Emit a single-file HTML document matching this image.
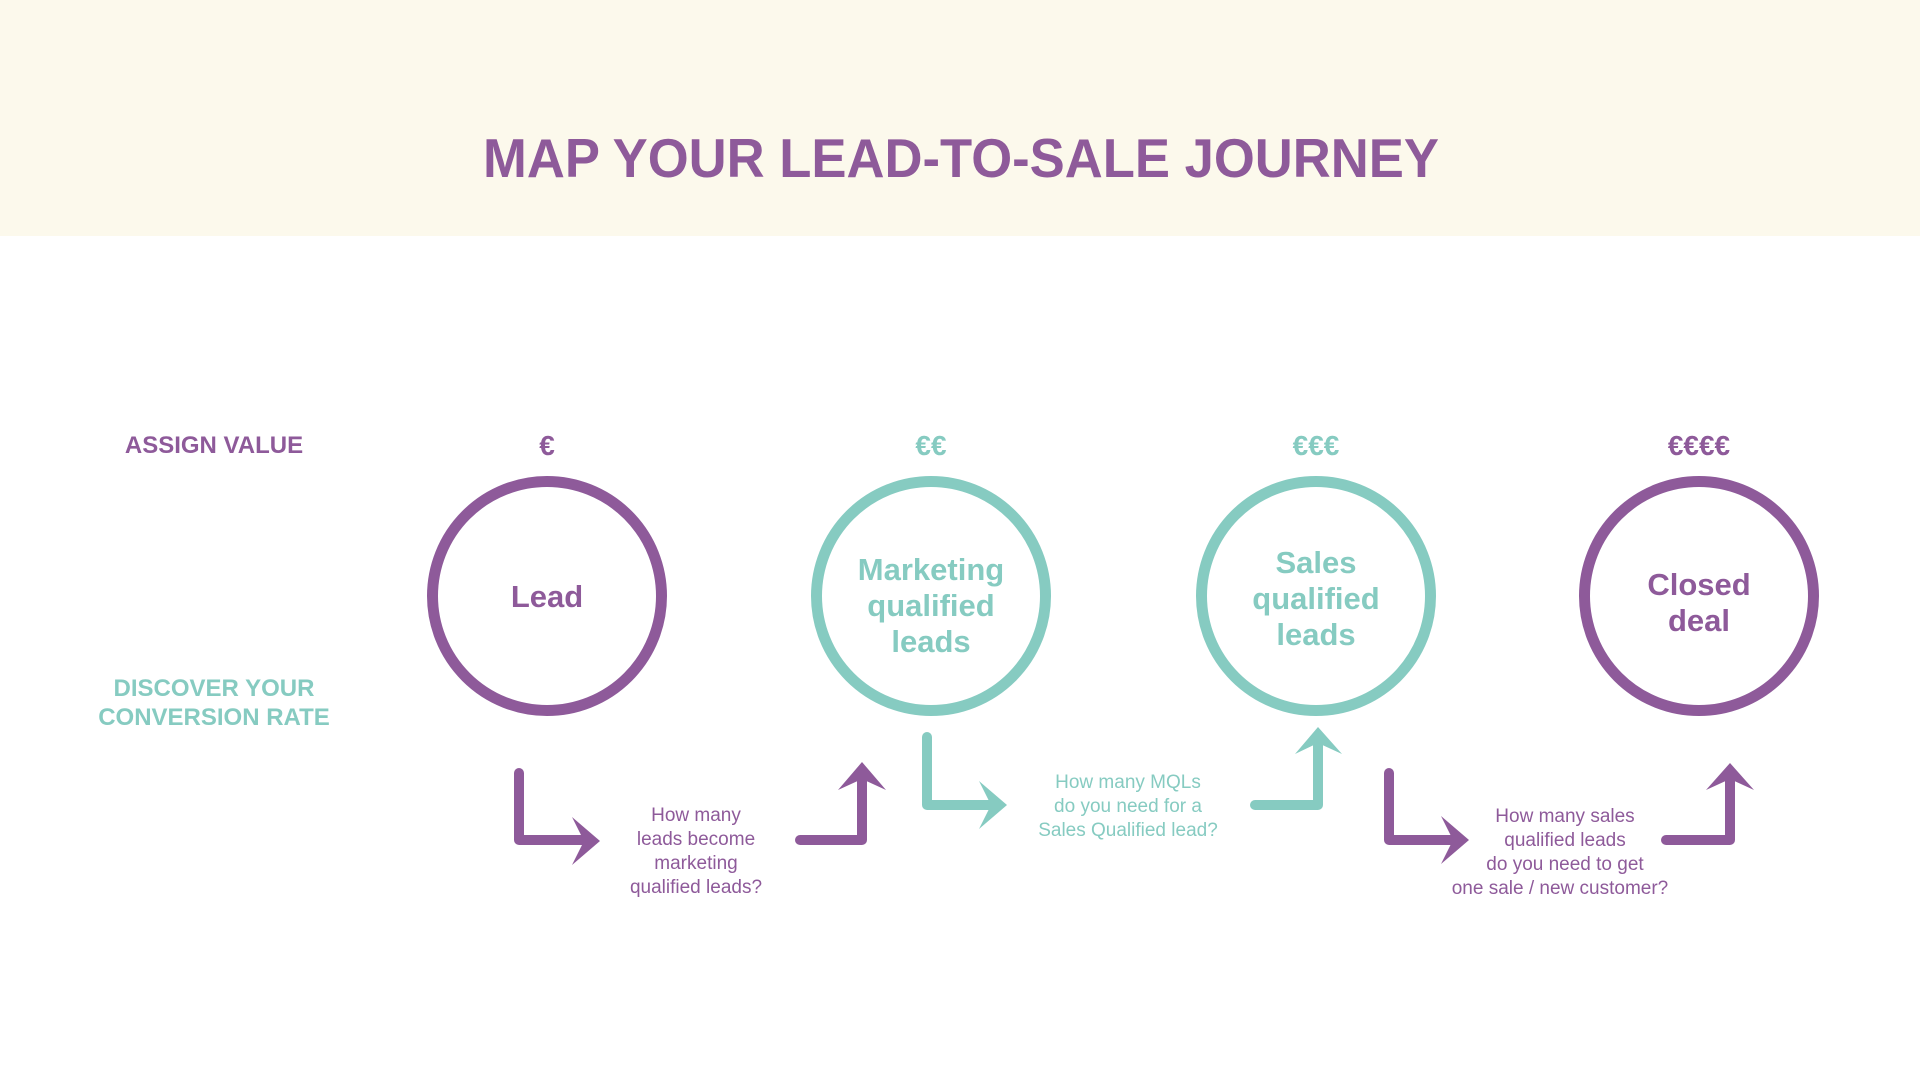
<!DOCTYPE html>
<html><head><meta charset="utf-8"><style>
html,body{margin:0;padding:0;width:1920px;height:1080px;overflow:hidden;background:#fff;font-family:"Liberation Sans",sans-serif}
</style></head><body>
<svg width="1920" height="1080" viewBox="0 0 1920 1080" xmlns="http://www.w3.org/2000/svg" style="position:absolute;left:0;top:0">
<rect x="0" y="0" width="1920" height="236" fill="#fcf9ec"/>
<text x="961" y="177" text-anchor="middle" font-family="Liberation Sans, sans-serif" font-weight="bold" font-size="55" textLength="956" lengthAdjust="spacingAndGlyphs" fill="#8e5a9a">MAP YOUR LEAD-TO-SALE JOURNEY</text>
<g font-family="Liberation Sans, sans-serif" font-weight="bold" text-anchor="middle">
<text x="214" y="453" font-size="24" fill="#8e5a9a">ASSIGN VALUE</text>
<text x="214" y="696" font-size="24" fill="#86cbc1">DISCOVER YOUR</text>
<text x="214" y="725" font-size="24" fill="#86cbc1">CONVERSION RATE</text>
<text x="547" y="455" font-size="28" fill="#8e5a9a">€</text>
<text x="931" y="455" font-size="28" fill="#86cbc1">€€</text>
<text x="1316" y="455" font-size="28" fill="#86cbc1">€€€</text>
<text x="1699" y="455" font-size="28" fill="#8e5a9a">€€€€</text>
</g>
<g fill="none" stroke-width="11">
<circle cx="547" cy="596" r="114.5" stroke="#8e5a9a"/>
<circle cx="931" cy="596" r="114.5" stroke="#86cbc1"/>
<circle cx="1316" cy="596" r="114.5" stroke="#86cbc1"/>
<circle cx="1699" cy="596" r="114.5" stroke="#8e5a9a"/>
</g>
<g font-family="Liberation Sans, sans-serif" font-weight="bold" text-anchor="middle" font-size="31">
<text x="547" y="607" fill="#8e5a9a">Lead</text>
<text x="931" y="580" fill="#86cbc1">Marketing</text>
<text x="931" y="616" fill="#86cbc1">qualified</text>
<text x="931" y="652" fill="#86cbc1">leads</text>
<text x="1316" y="573" fill="#86cbc1">Sales</text>
<text x="1316" y="609" fill="#86cbc1">qualified</text>
<text x="1316" y="645" fill="#86cbc1">leads</text>
<text x="1699" y="595" fill="#8e5a9a">Closed</text>
<text x="1699" y="631" fill="#8e5a9a">deal</text>
</g>
<g fill="none" stroke-width="10" stroke-linecap="round" stroke-linejoin="round">
<path d="M519 773 V840 H585" stroke="#8e5a9a"/>
<path d="M800 840 H862 V780" stroke="#8e5a9a"/>
<path d="M927 737 V805 H990" stroke="#86cbc1"/>
<path d="M1255 805 H1318 V745" stroke="#86cbc1"/>
<path d="M1389 773 V840 H1452" stroke="#8e5a9a"/>
<path d="M1666 840 H1730 V780" stroke="#8e5a9a"/>
</g>
<g>
<polygon points="600,841 572,817 584,841 572,865" fill="#8e5a9a"/>
<polygon points="862,762 838,790 862,779 886,790" fill="#8e5a9a"/>
<polygon points="1007,805 979,781 991,805 979,829" fill="#86cbc1"/>
<polygon points="1318,727 1295,754 1318,743 1342,754" fill="#86cbc1"/>
<polygon points="1469,840 1441,816 1453,840 1441,864" fill="#8e5a9a"/>
<polygon points="1730,763 1706,790 1730,779 1754,790" fill="#8e5a9a"/>
</g>
<g font-family="Liberation Sans, sans-serif" text-anchor="middle" font-size="19">
<text x="696" y="821" fill="#8e5a9a">How many</text>
<text x="696" y="845" fill="#8e5a9a">leads become</text>
<text x="696" y="869" fill="#8e5a9a">marketing</text>
<text x="696" y="893" fill="#8e5a9a">qualified leads?</text>
<text x="1128" y="788" fill="#86cbc1">How many MQLs</text>
<text x="1128" y="812" fill="#86cbc1">do you need for a</text>
<text x="1128" y="836" fill="#86cbc1">Sales Qualified lead?</text>
<text x="1565" y="822" fill="#8e5a9a">How many sales</text>
<text x="1565" y="846" fill="#8e5a9a">qualified leads</text>
<text x="1565" y="870" fill="#8e5a9a">do you need to get</text>
<text x="1560" y="894" fill="#8e5a9a">one sale / new customer?</text>
</g>
</svg>
</body></html>
